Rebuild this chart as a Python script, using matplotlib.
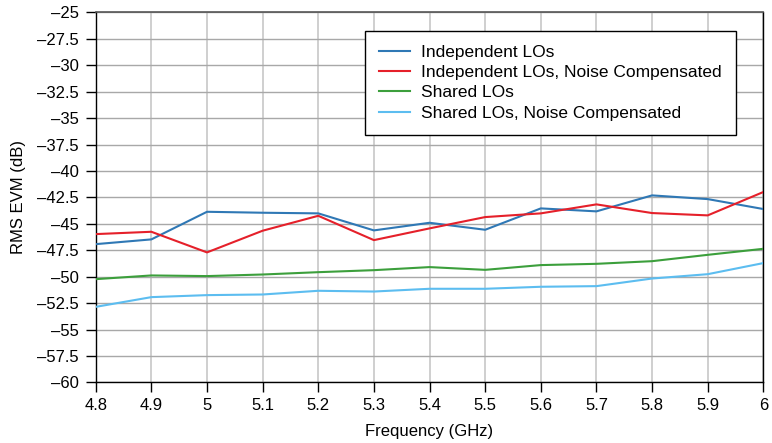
import numpy as np
import matplotlib
matplotlib.use('Agg')
import matplotlib.pyplot as plt

plt.rcParams['font.family'] = ['Liberation Sans', 'DejaVu Sans']
plt.rcParams['font.size'] = 12

# data
freq = [4.8, 4.9, 5.0, 5.1, 5.2, 5.3, 5.4, 5.5, 5.6, 5.7, 5.8, 5.9, 6.0]
indep = [-46.92, -46.47, -43.86, -43.95, -44.01, -45.62, -44.90, -45.56, -43.54, -43.82, -42.31, -42.66, -43.60]
indep_nc = [-45.97, -45.75, -47.70, -45.65, -44.24, -46.54, -45.43, -44.36, -44.01, -43.16, -43.98, -44.20, -41.99]
shared = [-50.23, -49.88, -49.94, -49.79, -49.57, -49.38, -49.09, -49.35, -48.90, -48.78, -48.53, -47.93, -47.36]
shared_nc = [-52.85, -51.93, -51.74, -51.68, -51.33, -51.40, -51.14, -51.14, -50.95, -50.89, -50.17, -49.76, -48.71]

labels = ['Independent LOs', 'Independent LOs, Noise Compensated',
          'Shared LOs', 'Shared LOs, Noise Compensated']
colors = ['#2f78b5', '#e5202a', '#3c9f3c', '#5cbdf0']

y_ticks = np.arange(-60, -24.9, 2.5)
x_ticks = freq

fig = plt.figure(figsize=(7.72, 4.43), dpi=100)
ax = fig.add_axes([0.124, 0.1366, 0.8648, 0.8356])

for series, lab, col in zip([indep, indep_nc, shared, shared_nc], labels, colors):
    ax.plot(freq, series, color=col, lw=1.5, label=lab, zorder=3)

ax.set_xlim(4.8, 6.0)
ax.set_ylim(-60, -25)
ax.set_xticks(x_ticks)
ax.set_xticklabels(['%g' % v for v in x_ticks])
ax.set_yticks(y_ticks)
ax.set_yticklabels([('%g' % v).replace('-', '\u2013') for v in y_ticks])

ax.yaxis.grid(True, color='#a8a8a8', lw=1.0)
ax.xaxis.grid(True, color='#cccccc', lw=1.3)
ax.set_axisbelow(True)

ax.tick_params(direction='out', length=7, width=1, colors='black',
               labelsize=12, pad=4)
ax.tick_params(axis='y', pad=5)
for s in ['left', 'bottom', 'right']:
    ax.spines[s].set_color('black')
    ax.spines[s].set_linewidth(1)
ax.spines['top'].set_color('#555555')
ax.spines['top'].set_linewidth(1.2)

ax.set_xlabel('Frequency (GHz)', fontsize=12, labelpad=8)
ax.set_ylabel('RMS EVM (dB)', fontsize=12, labelpad=8)

leg = ax.legend(loc='upper left', bbox_to_anchor=(365 / 772, 1 - 30.7 / 443),
                bbox_transform=fig.transFigure, fancybox=False, framealpha=1,
                edgecolor='black', handlelength=1.8, handletextpad=0.65,
                borderpad=0.8, labelspacing=0.3, fontsize=12.5,
                borderaxespad=0)
leg.get_frame().set_linewidth(1)

fig.savefig('out.png', dpi=100)
